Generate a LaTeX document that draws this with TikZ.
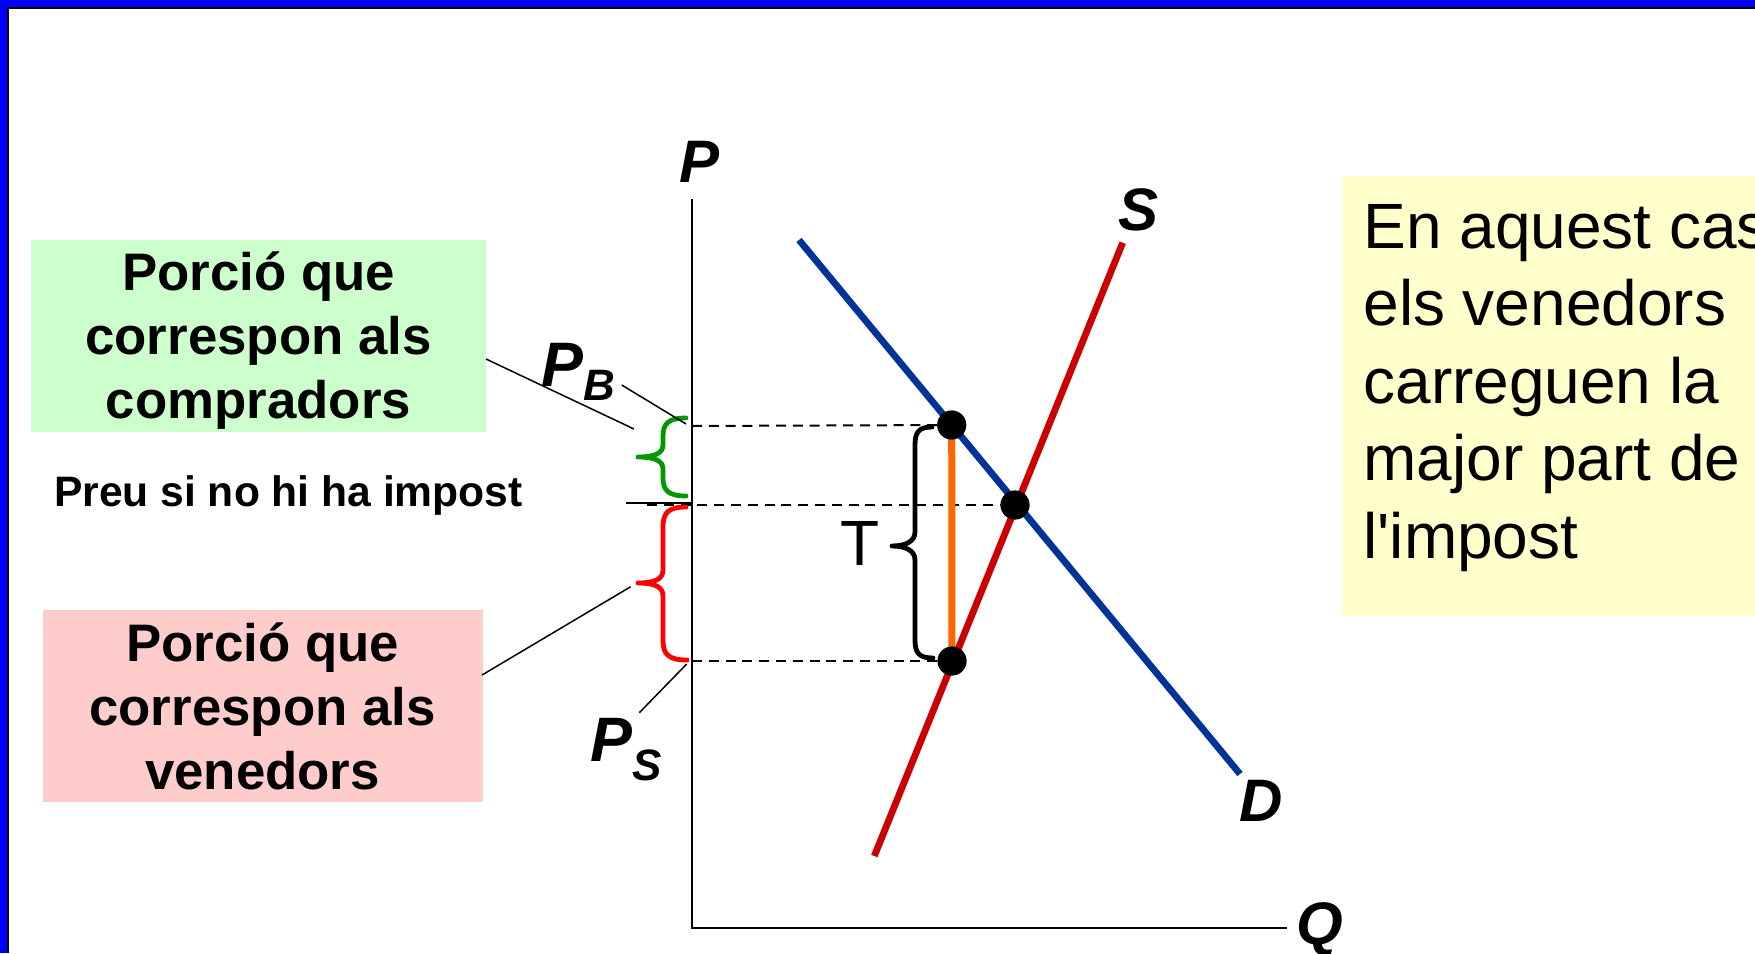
\documentclass[tikz,border=0pt]{standalone}
\usepackage{fontspec}
\setmainfont{Liberation Sans}[Ligatures=TeXOff]
\definecolor{dblue}{HTML}{003399}
\definecolor{sred}{HTML}{CC0000}
\definecolor{gboxc}{HTML}{CCFFCC}
\definecolor{rboxc}{HTML}{FFCCCC}
\definecolor{yboxc}{HTML}{FFFFCC}
\definecolor{orng}{HTML}{FF6600}
\definecolor{gbr}{HTML}{009900}
\definecolor{rbr}{HTML}{FF0000}
\definecolor{frameblue}{HTML}{0000FF}
\begin{document}
\begin{tikzpicture}[x=0.5pt,y=-0.5pt,
  axisline/.style={line width=1pt,black},
  demand/.style={line width=3.4pt,dblue},
  supply/.style={line width=3.4pt,sred},
  dashline/.style={line width=1pt,dash pattern=on 5pt off 3.4pt},
  leader/.style={line width=0.75pt},
  dot/.style={circle,fill=black,inner sep=0pt,minimum size=14.6pt},
  boxtxt/.style={font={\bfseries\fontsize{26.4}{32}\selectfont},align=center,inner sep=0pt},
  noteline/.style={font={\fontsize{32}{38.8}\selectfont},anchor=base west,inner sep=0pt},
  axlabel/.style={font={\bfseries\itshape\fontsize{30}{30}\selectfont},inner sep=0pt},
  bracestyle/.style={line width=2.4pt,line cap=round,line join=round}
]
\useasboundingbox (0,0) rectangle (1755,953);
% frame
\fill[frameblue] (0,0) rectangle (1755,7.5);
\fill[frameblue] (0,0) rectangle (7.5,953);
\draw[line width=1pt,black] (8.3,953) -- (8.3,8.3) -- (1755,8.3);

% boxes
\node[fill=gboxc,inner sep=0pt,minimum width=227.5pt,minimum height=96pt] (gbox) at (258.5,336) {};
\node[boxtxt] (gtext) at (258.5,341) {Porció que\\correspon als\\compradors};
\node[fill=rboxc,inner sep=0pt,minimum width=220pt,minimum height=96.25pt] (rbox) at (262.5,706) {};
\node[boxtxt] (rtext) at (262.5,706) {Porció que\\correspon als\\venedors};
\fill[yboxc] (1342,176) rectangle (1760,616);
\node[noteline] (n1) at (1363,248) {En aquest cas};
\node[noteline] (n2) at (1363,325.6) {els venedors};
\node[noteline] (n3) at (1363,403.2) {carreguen la};
\node[noteline] (n4) at (1363,480.8) {major part de};
\node[noteline] (n5) at (1363,558.4) {l'impost};

\node[font={\bfseries\fontsize{21.3}{25}\selectfont},anchor=west,inner sep=0pt] (preu) at (53.7,495.5) {Preu si no hi ha impost};

% axes
\coordinate (Ptop) at (692,199);
\coordinate (O) at (692,928);
\coordinate (Qend) at (1287,928);
\draw[axisline] (Ptop) -- (O) -- (Qend);
\node[axlabel] (Plab) at (699.6,162) {P};
\node[axlabel] (Qlab) at (1319.7,929) {Q};
\node[axlabel] (Slab) at (1138.5,209.5) {S};
\node[axlabel] (Dlab) at (1261.5,801) {D};

% dots positions
\coordinate (pbC) at (951.7,425);
\coordinate (eqC) at (1015,505);
\coordinate (psC) at (952,661);
\coordinate (yB) at (692,426);
\coordinate (yE) at (647,505);
\coordinate (yS) at (692,661);

% dashed guide lines
\draw[dashline] (yB) -- (pbC);
\draw[dashline] (yE) -- (eqC);
\draw[dashline] (yS) -- (psC);
\draw[line width=1pt] (626,503) -- (691,503);

% curves
\coordinate (Dtop) at (799,240);
\coordinate (Dbot) at (1240,774);
\coordinate (Stop) at (1122.7,242.7);
\coordinate (Sbot) at (874.3,856);
\draw[demand] (Dtop) -- (Dbot);
\draw[supply] (Sbot) -- (Stop);

% tax wedge
\draw[line width=3.5pt,orng] (pbC) -- (psC);
\node[dot] (pb) at (pbC) {};
\node[dot] (eq) at (eqC) {};
\node[dot] (ps) at (psC) {};

% T brace
\draw[bracestyle,black] (932,427) .. controls (919,427) and (915,432) .. (915,445) -- (915,532)
  .. controls (915,541) and (906,546) .. (892,546) .. controls (906,546) and (915,551) .. (915,560)
  -- (915,640) .. controls (915,653) and (919,658) .. (933,658);
\node[font={\fontsize{32}{32}\selectfont},inner sep=0pt] (T) at (860,543) {T};

% green brace
\draw[bracestyle,gbr] (686,418) .. controls (668,418) and (663,424) .. (663,436) -- (663,445)
  .. controls (663,453) and (655,457) .. (638,457) .. controls (655,457) and (663,461) .. (663,469)
  -- (663,478) .. controls (663,490) and (668,496) .. (686,496);
% red brace
\draw[bracestyle,rbr] (686,507) .. controls (668,507) and (663,513) .. (663,527) -- (663,570)
  .. controls (663,579) and (655,583) .. (638,583) .. controls (655,583) and (663,587) .. (663,596)
  -- (663,640) .. controls (663,654) and (668,660) .. (687,660);

% PB, PS labels
\node[anchor=base west,inner sep=0pt,font={\bfseries\itshape\fontsize{31.4}{31.4}\selectfont}] (PB) at (541,386)
  {P\raisebox{-7.3pt}{\fontsize{22}{22}\selectfont B}};
\node[anchor=base west,inner sep=0pt,font={\bfseries\itshape\fontsize{31.4}{31.4}\selectfont}] (PS) at (590,761)
  {P\raisebox{-9.5pt}{\fontsize{22}{22}\selectfont S}};

% leaders
\coordinate (gl) at (486,359);
\coordinate (gle) at (634,429);
\coordinate (pbl1) at (621.7,385);
\coordinate (pbl2) at (686,424);
\coordinate (rl) at (482,675);
\coordinate (rle) at (630.7,586.7);
\coordinate (psl1) at (686.7,664);
\coordinate (psl2) at (639.3,712.7);
\draw[leader] (gl) -- (gle);
\draw[leader] (pbl1) -- (pbl2);
\draw[leader] (rl) -- (rle);
\draw[leader] (psl1) -- (psl2);
\end{tikzpicture}
\end{document}
